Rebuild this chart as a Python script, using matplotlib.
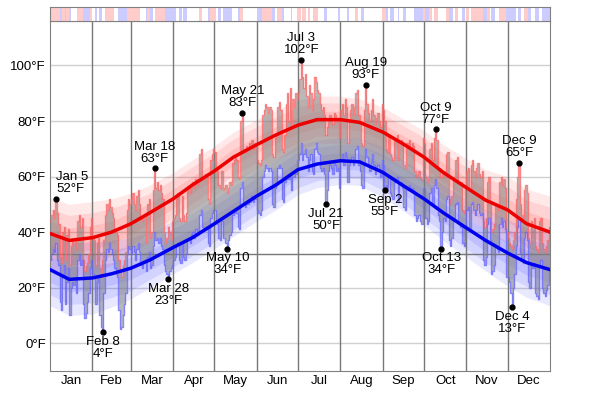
import numpy as np
import matplotlib.pyplot as plt

plt.rcParams['font.family'] = ['Liberation Sans', 'DejaVu Sans']

months = ['Jan', 'Feb', 'Mar', 'Apr', 'May', 'Jun',
          'Jul', 'Aug', 'Sep', 'Oct', 'Nov', 'Dec']
month_days = [31, 28, 31, 30, 31, 30, 31, 31, 30, 31, 30, 31]

# daily high / low (°F), one list per month
highs = [
    [44, 46, 48, 45, 52, 47, 43, 31, 29, 40, 42, 30, 39, 41, 28, 35, 37, 36, 38, 34, 44, 46, 42, 45, 30, 26, 28, 29, 32, 42, 45],
    [38, 37, 28, 36, 38, 27, 24, 30, 37, 46, 50, 48, 52, 49, 47, 45, 41, 40, 39, 30, 26, 24, 28, 30, 33, 48, 52, 50],
    [52, 54, 50, 48, 53, 55, 50, 45, 44, 46, 47, 36, 50, 52, 38, 40, 55, 63, 56, 58, 55, 57, 54, 52, 40, 36, 38, 42, 40, 37, 44],
    [45, 46, 52, 54, 45, 44, 53, 46, 44, 47, 55, 56, 54, 57, 58, 56, 59, 57, 58, 68, 70, 60, 59, 61, 60, 52, 50, 66, 68, 70],
    [69, 63, 62, 57, 56, 62, 55, 56, 57, 54, 56, 58, 57, 65, 66, 67, 66, 60, 59, 80, 83, 70, 69, 71, 70, 72, 71, 73, 70, 72, 71],
    [66, 65, 64, 66, 82, 84, 86, 85, 83, 85, 84, 68, 67, 74, 75, 85, 87, 84, 70, 69, 75, 86, 90, 80, 92, 78, 88, 85, 90, 88],
    [90, 95, 102, 96, 92, 97, 89, 85, 93, 90, 84, 88, 96, 94, 91, 90, 86, 84, 85, 82, 75, 78, 80, 82, 81, 79, 83, 82, 80, 81, 74],
    [84, 86, 82, 88, 85, 72, 80, 84, 86, 82, 85, 90, 91, 82, 80, 72, 71, 84, 93, 86, 83, 80, 84, 88, 82, 79, 81, 83, 80, 78, 86],
    [84, 80, 70, 69, 75, 68, 67, 66, 74, 73, 75, 66, 72, 73, 71, 64, 63, 72, 71, 73, 70, 72, 71, 62, 60, 61, 62, 60, 59, 74],
    [72, 60, 58, 59, 70, 72, 66, 74, 77, 73, 63, 62, 60, 61, 62, 60, 68, 69, 52, 50, 53, 60, 59, 66, 67, 58, 57, 58, 48, 47, 56],
    [62, 63, 55, 64, 66, 62, 60, 63, 65, 61, 60, 62, 44, 42, 45, 58, 60, 51, 40, 41, 43, 50, 49, 48, 58, 60, 57, 59, 56, 40],
    [38, 36, 35, 34, 37, 40, 52, 60, 65, 50, 46, 45, 55, 57, 54, 38, 36, 44, 43, 45, 35, 34, 33, 44, 45, 36, 34, 33, 35, 37, 42],
]
lows = [
    [30, 32, 34, 33, 36, 30, 28, 15, 12, 24, 28, 14, 22, 27, 10, 20, 22, 21, 24, 18, 30, 32, 28, 30, 14, 9, 11, 15, 18, 27, 30],
    [25, 24, 14, 22, 24, 10, 6, 4, 18, 30, 34, 33, 36, 34, 32, 30, 27, 25, 24, 12, 5, 6, 10, 14, 18, 32, 35, 34],
    [32, 35, 33, 30, 34, 36, 33, 28, 27, 29, 30, 26, 31, 33, 27, 28, 35, 40, 37, 38, 36, 38, 35, 34, 28, 26, 25, 23, 26, 27, 28],
    [30, 31, 35, 36, 30, 29, 36, 31, 30, 32, 37, 38, 36, 39, 40, 38, 41, 39, 40, 46, 48, 42, 41, 42, 41, 36, 35, 45, 47, 48],
    [48, 44, 43, 38, 37, 44, 38, 38, 36, 34, 37, 39, 40, 46, 47, 48, 47, 42, 41, 56, 58, 50, 49, 51, 50, 52, 51, 53, 51, 53, 52],
    [48, 47, 46, 48, 60, 62, 64, 63, 62, 63, 62, 50, 49, 56, 57, 63, 64, 63, 52, 51, 58, 59, 60, 59, 61, 55, 60, 60, 61, 66],
    [66, 68, 72, 66, 68, 70, 67, 62, 66, 68, 62, 61, 70, 72, 69, 68, 63, 62, 63, 61, 50, 55, 62, 64, 63, 61, 65, 64, 62, 63, 56],
    [66, 68, 64, 69, 67, 58, 64, 66, 67, 64, 66, 70, 71, 64, 62, 57, 56, 65, 70, 67, 64, 62, 65, 68, 64, 61, 63, 64, 62, 60, 66],
    [64, 55, 57, 56, 60, 54, 53, 52, 59, 58, 60, 51, 57, 58, 56, 49, 48, 56, 55, 57, 55, 56, 55, 46, 44, 45, 46, 44, 43, 56],
    [56, 45, 43, 44, 54, 56, 50, 57, 59, 56, 46, 44, 34, 40, 45, 44, 52, 53, 37, 35, 38, 45, 44, 50, 51, 43, 42, 43, 36, 35, 41],
    [48, 49, 41, 50, 51, 48, 46, 48, 50, 47, 46, 47, 30, 28, 31, 43, 45, 37, 25, 26, 28, 35, 34, 33, 43, 45, 42, 44, 41, 24],
    [24, 22, 18, 13, 20, 25, 35, 42, 45, 32, 30, 29, 38, 40, 37, 22, 20, 28, 27, 29, 18, 17, 16, 28, 30, 20, 18, 17, 19, 21, 27],
]

# climate normals sampled on the 1st and 15th of each month (+ Dec 31)
norm_day = [0, 14, 31, 45, 59, 73, 90, 104, 120, 134, 151, 165, 181,
            195, 212, 226, 243, 257, 273, 287, 304, 318, 334, 348, 365]
avg_high = [39.5, 37, 38, 40, 43, 47, 52, 57, 62, 67, 71.5, 75, 78.5,
            80.5, 80.5, 79.5, 76, 72, 67, 61.5, 56, 51.5, 48, 43, 40]
avg_low = [26.5, 23, 23.5, 25, 27, 30, 34.5, 38, 43, 47.5, 53, 57, 62.5,
           64.5, 65.7, 65.3, 61.5, 57, 52, 47, 41.5, 37, 32.5, 29, 26.5]
spread_outer = [13, 13, 13, 12, 11, 10, 9.5, 9, 9, 9, 9, 9, 9,
                8.5, 8.5, 8.5, 9, 9, 9.5, 10, 10.5, 11, 12, 12.5, 13]
spread_mid = [9, 9, 9, 8.5, 8, 7, 7, 6.5, 6.5, 6.5, 6.5, 6.5, 6.5,
              6, 6, 6, 6.5, 6.5, 7, 7, 7.5, 8, 8.5, 8.5, 9]
spread_inner = [4.5, 4.5, 4.5, 4, 4, 3.5, 3.5, 3, 3, 3, 3, 3, 3,
                3, 3, 3, 3, 3, 3.5, 3.5, 3.5, 4, 4, 4.5, 4.5]

# warmer (r) / colder (b) / normal (w) day strip, as runs
strip_runs = [
    ('r', 7), ('b', 2), ('r', 2), ('b', 1), ('r', 2), ('b', 1), ('w', 5), ('r', 4), ('b', 5), ('r', 2),
    ('w', 2), ('b', 1), ('w', 2), ('b', 2), ('w', 2), ('r', 7), ('w', 3), ('b', 6), ('r', 10), ('w', 4),
    ('b', 1), ('r', 2), ('b', 2), ('w', 2), ('r', 7), ('b', 8), ('w', 2), ('b', 2), ('w', 1), ('b', 3),
    ('w', 9), ('r', 2), ('w', 4), ('b', 2), ('r', 4), ('w', 2), ('b', 2), ('w', 1), ('b', 7), ('w', 4),
    ('b', 2), ('r', 2), ('w', 10), ('b', 4), ('r', 7), ('b', 2), ('w', 2), ('r', 3), ('b', 2), ('w', 5),
    ('b', 1), ('w', 3), ('r', 3),
    ('w', 1), ('r', 3), ('w', 1), ('r', 2), ('w', 2), ('r', 4), ('w', 4), ('b', 2), ('w', 8), ('b', 2),
    ('w', 5), ('b', 1), ('w', 5), ('r', 2), ('w', 2), ('b', 2), ('w', 13), ('r', 3), ('b', 2), ('w', 1),
    ('b', 3), ('w', 3), ('b', 1), ('w', 3), ('b', 2), ('w', 6), ('b', 6), ('r', 2), ('b', 3), ('r', 2),
    ('w', 1), ('r', 3), ('w', 6), ('r', 2), ('b', 3), ('w', 2), ('r', 2), ('w', 3), ('b', 2), ('w', 1),
    ('r', 2), ('w', 1), ('r', 9), ('b', 3), ('r', 2), ('w', 1), ('b', 3), ('w', 3), ('r', 5), ('b', 7),
    ('w', 2), ('b', 2), ('w', 2), ('r', 3), ('b', 2), ('w', 3), ('b', 3), ('w', 2), ('b', 6),
]

# labelled extremes: (month index, day, 'high' or 'low')
notes = [(0, 5, 'high'), (1, 8, 'low'), (2, 18, 'high'), (2, 28, 'low'),
         (4, 10, 'low'), (4, 21, 'high'), (6, 3, 'high'), (6, 21, 'low'),
         (7, 19, 'high'), (8, 2, 'low'), (9, 9, 'high'), (9, 13, 'low'),
         (11, 4, 'low'), (11, 9, 'high')]

hi = np.concatenate(highs)
lo = np.concatenate(lows)
days = np.arange(len(hi) + 1)
month_start = np.concatenate([[0], np.cumsum(month_days)])
month_mid = (month_start[:-1] + month_start[1:]) / 2

fig = plt.figure(figsize=(6, 3.94), dpi=100)
ax = fig.add_axes([50 / 600, 23 / 394, 500 / 600, 350 / 394])
ax_s = fig.add_axes([50 / 600, 373 / 394, 500 / 600, 14 / 394])

# percentile bands
nd = np.array(norm_day)
ah, al = np.array(avg_high), np.array(avg_low)
for avg, col in [(ah, 'red'), (al, 'blue')]:
    for sp in [spread_outer, spread_mid, spread_inner]:
        sp = np.array(sp)
        ax.fill_between(nd, avg - sp, avg + sp, color=col, alpha=0.09, lw=0, zorder=1)

# grid
for y in range(0, 101, 20):
    ax.axhline(y, color='#d0d0d0', lw=1, zorder=0)
ax.axhline(32, color='#777777', lw=1, zorder=2)
for x in month_start[1:-1]:
    ax.axvline(x, color='#777777', lw=1, zorder=2)

# daily ranges
hi_s = np.append(hi, hi[-1])
lo_s = np.append(lo, lo[-1])
ax.fill_between(days, lo_s, hi_s, step='post', color='#808080', alpha=0.55, lw=0, zorder=3)
ax.step(days, hi_s, where='post', color='#ff6666', alpha=0.75, lw=1, zorder=4)
ax.step(days, lo_s, where='post', color='#6666ff', alpha=0.75, lw=1, zorder=4)

# average lines
ax.plot(nd, ah, color='#ee0000', lw=2.5, zorder=5)
ax.plot(nd, al, color='#0000ee', lw=2.5, zorder=5)

# annotations
for m, d, kind in notes:
    i = month_start[m] + d - 1
    v = hi[i] if kind == 'high' else lo[i]
    xd = i + 0.5
    ax.plot(xd, v, 'o', color='black', ms=3.5, zorder=6)
    txt = f'{months[m]} {d}\n{v}°F'
    ha = 'left' if i < 10 else 'center'
    if kind == 'high':
        ax.annotate(txt, (xd, v), xytext=(0, 2.5), textcoords='offset points',
                    ha=ha, va='bottom', fontsize=9.5, linespacing=1.0, zorder=7)
    else:
        ax.annotate(txt, (xd, v), xytext=(0, -2.5), textcoords='offset points',
                    ha=ha, va='top', fontsize=9.5, linespacing=1.0, zorder=7)

ax.set_xlim(0, 365)
ax.set_ylim(-10, 116)
ax.set_yticks(range(0, 101, 20))
ax.set_yticklabels([f'{t}°F' for t in range(0, 101, 20)], fontsize=9.5)
ax.set_xticks(month_mid)
ax.set_xticklabels(months, fontsize=9.5)
ax.tick_params(length=0, pad=3)
for sp in ax.spines.values():
    sp.set_color('#808080')

# warm/cold strip
cmap = {'r': '#ffcccc', 'b': '#ccccff', 'w': 'white'}
strip_cols = np.repeat([cmap[c] for c, n in strip_runs], [n for c, n in strip_runs])
ax_s.bar(np.arange(len(strip_cols)), 1, width=1, align='edge', color=strip_cols, lw=0)
ax_s.set_xlim(0, 365)
ax_s.set_ylim(0, 1)
ax_s.set_xticks([])
ax_s.set_yticks([])
for sp in ax_s.spines.values():
    sp.set_color('#808080')

fig.savefig('out.png', dpi=100)
